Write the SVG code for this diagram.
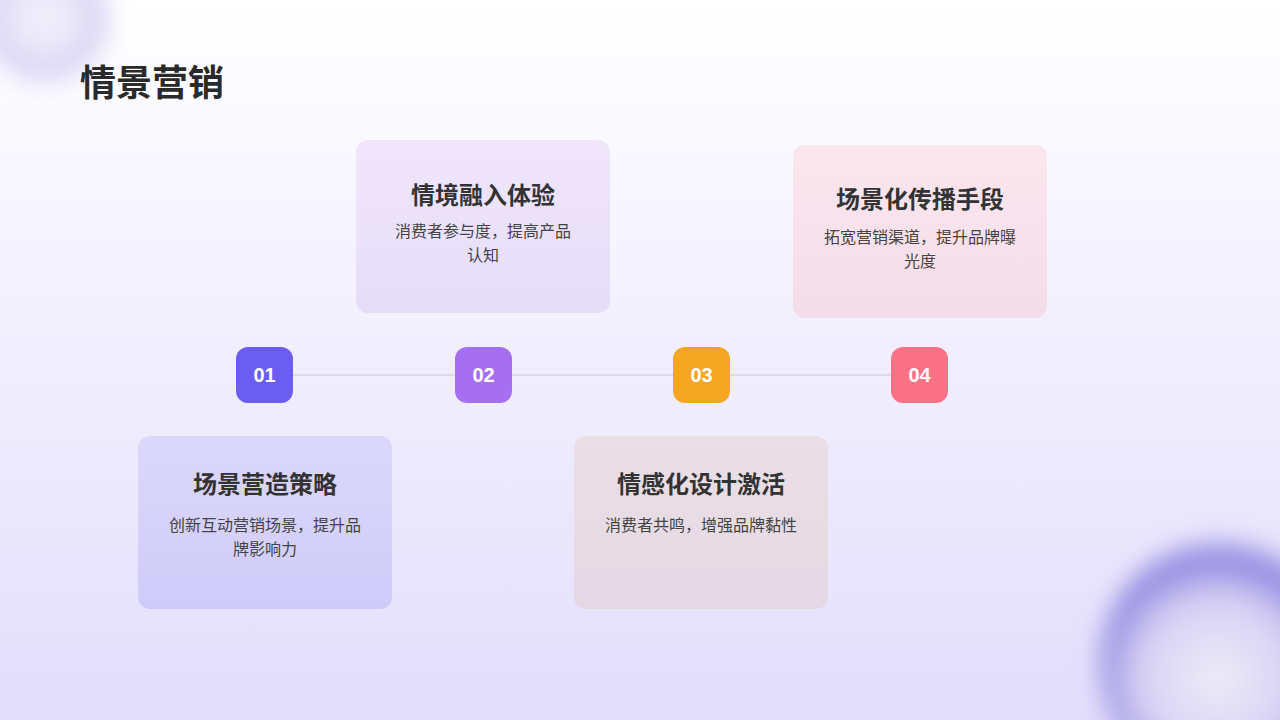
<svg xmlns="http://www.w3.org/2000/svg" width="1280" height="720" viewBox="0 0 1280 720">
<defs>
<linearGradient id="bg" x1="0" y1="0" x2="0" y2="1"><stop offset="0" stop-color="#ffffff"/><stop offset="1" stop-color="#e2defc"/></linearGradient>
<radialGradient id="orb" cx="0.45" cy="0.55" r="0.55"><stop offset="0" stop-color="#eeecf9"/><stop offset="0.55" stop-color="#d6d1f4"/><stop offset="0.85" stop-color="#8a80de"/><stop offset="1" stop-color="#8a80de" stop-opacity="0"/></radialGradient>
<radialGradient id="orb2" cx="0.5" cy="0.5" r="0.5"><stop offset="0" stop-color="#f3f2fb"/><stop offset="0.65" stop-color="#e6e2f8"/><stop offset="0.9" stop-color="#cdc6f2"/><stop offset="1" stop-color="#cdc6f2" stop-opacity="0"/></radialGradient>
<filter id="blur" x="-0.5" y="-0.5" width="2" height="2"><feGaussianBlur stdDeviation="12"/></filter>
<linearGradient id="c1" x1="0" y1="0" x2="0" y2="1"><stop offset="0" stop-color="#dcd8fb"/><stop offset="1" stop-color="#cfcbf8"/></linearGradient>
<linearGradient id="c2" x1="0" y1="0" x2="0" y2="1"><stop offset="0" stop-color="#f0e6fb"/><stop offset="1" stop-color="#e6ddf9"/></linearGradient>
<linearGradient id="c3" x1="0" y1="0" x2="0" y2="1"><stop offset="0" stop-color="#ebdfe6"/><stop offset="1" stop-color="#e4d9e3"/></linearGradient>
<linearGradient id="c4" x1="0" y1="0" x2="0" y2="1"><stop offset="0" stop-color="#fce6ee"/><stop offset="1" stop-color="#f4dde8"/></linearGradient>
</defs>
<style>
.t{font-family:"Noto Sans CJK SC","Noto Sans",sans-serif;text-anchor:middle}
.h{font-size:24px;font-weight:700;fill:#333}
.d{font-size:16px;fill:#444}
.n{font-family:"Liberation Sans",Arial,sans-serif;font-size:20px;font-weight:700;fill:#fff;text-anchor:middle}
</style>
<rect width="1280" height="720" fill="url(#bg)"/>
<circle cx="45" cy="18" r="65" fill="url(#orb2)" filter="url(#blur)"/>
<circle cx="1230" cy="665" r="130" fill="url(#orb)" filter="url(#blur)"/>
<text x="80" y="96" font-family="'Noto Sans CJK SC',sans-serif" font-size="36" font-weight="700" fill="#2a2a2a">情景营销</text>
<g id="connectors"><line x1="264" y1="375" x2="919" y2="375" stroke="#d8d3e8" stroke-width="1.5"/></g>
<g id="card1"><rect x="138" y="436" width="254" height="173" rx="12" fill="url(#c1)"/><text class="t h" x="265" y="493">场景营造策略</text><text class="t d" x="265" y="531">创新互动营销场景，提升品</text><text class="t d" x="265" y="555">牌影响力</text></g>
<g id="card2"><rect x="356" y="140" width="254" height="173" rx="12" fill="url(#c2)"/><text class="t h" x="483" y="204">情境融入体验</text><text class="t d" x="483" y="237">消费者参与度，提高产品</text><text class="t d" x="483" y="261">认知</text></g>
<g id="card3"><rect x="574" y="436" width="254" height="173" rx="12" fill="url(#c3)"/><text class="t h" x="701" y="493">情感化设计激活</text><text class="t d" x="701" y="531">消费者共鸣，增强品牌黏性</text></g>
<g id="card4"><rect x="793" y="145" width="254" height="173" rx="12" fill="url(#c4)"/><text class="t h" x="920" y="208">场景化传播手段</text><text class="t d" x="920" y="243">拓宽营销渠道，提升品牌曝</text><text class="t d" x="920" y="267">光度</text></g>
<g id="n1"><rect x="236" y="347" width="57" height="56" rx="12" fill="#6b5cf2"/><text class="n" x="264.5" y="382">01</text></g>
<g id="n2"><rect x="455" y="347" width="57" height="56" rx="12" fill="#a66ef0"/><text class="n" x="483.5" y="382">02</text></g>
<g id="n3"><rect x="673" y="347" width="57" height="56" rx="12" fill="#f5a623"/><text class="n" x="701.5" y="382">03</text></g>
<g id="n4"><rect x="891" y="347" width="57" height="56" rx="12" fill="#fb7185"/><text class="n" x="919.5" y="382">04</text></g>
</svg>
